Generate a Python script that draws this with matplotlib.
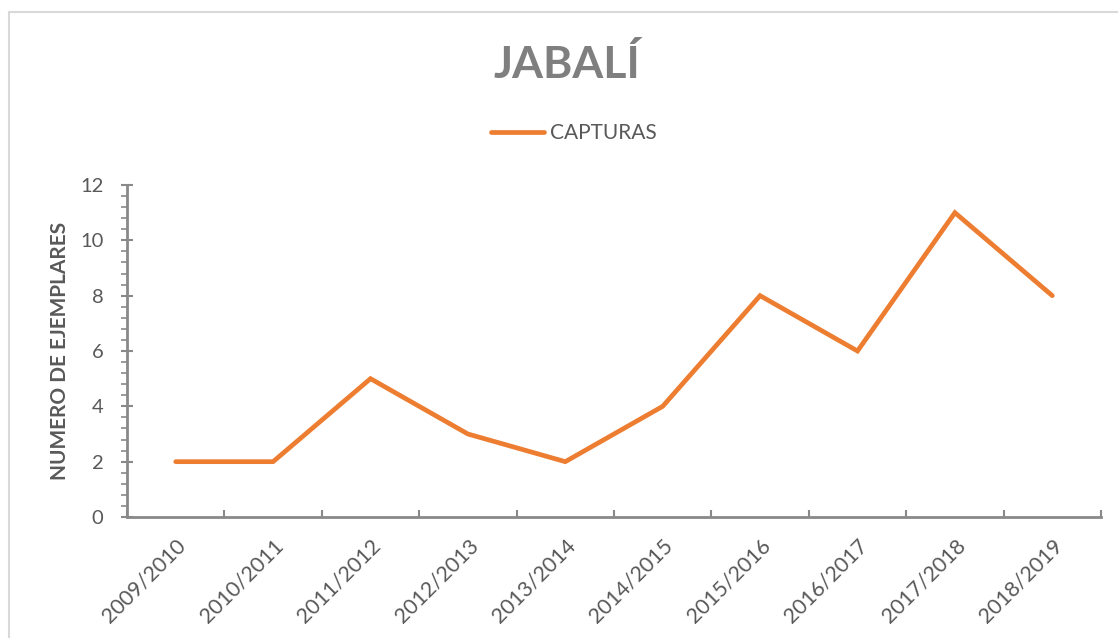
import matplotlib.pyplot as plt
from matplotlib.patches import Rectangle
from matplotlib.ticker import MultipleLocator, FixedLocator

plt.rcParams['font.family'] = ['Lato', 'DejaVu Sans']

seasons = ['2009/2010', '2010/2011', '2011/2012', '2012/2013', '2013/2014',
           '2014/2015', '2015/2016', '2016/2017', '2017/2018', '2018/2019']
capturas = [2, 2, 5, 3, 2, 4, 8, 6, 11, 8]

axis_grey = '#898989'
text_grey = '#595959'

fig = plt.figure(figsize=(11.18, 6.38), dpi=100)
ax = fig.add_axes([127 / 1118, 121 / 638, (1101 - 127) / 1118, 332 / 638])

x = list(range(len(seasons)))
ax.plot(x, capturas, color='#ED7D31', linewidth=3.4, solid_capstyle='round',
        solid_joinstyle='miter', label='CAPTURAS')

ax.set_xlim(-0.5, len(seasons) - 0.5)
ax.set_ylim(0, 12)

# y axis: majors every 2 crossing the axis, minors outside
ax.yaxis.set_major_locator(MultipleLocator(2))
ax.yaxis.set_minor_locator(MultipleLocator(0.4))
ax.tick_params(axis='y', which='major', direction='inout', length=8, width=1.5,
               color=axis_grey, labelsize=14.5, labelcolor=text_grey, pad=13)
ax.tick_params(axis='y', which='minor', direction='out', length=4, width=1.2,
               color=axis_grey)

# x axis: ticks between categories, labels at the centres
ax.xaxis.set_major_locator(FixedLocator([i - 0.5 for i in range(len(seasons) + 1)]))
ax.xaxis.set_major_formatter(plt.NullFormatter())
ax.xaxis.set_minor_locator(FixedLocator(x))
ax.set_xticklabels(seasons, minor=True)
ax.tick_params(axis='x', which='major', direction='in', length=5, width=1.5,
               color=axis_grey)
ax.tick_params(axis='x', which='minor', length=0, labelsize=15.5,
               labelcolor=text_grey, pad=13)
for lbl in ax.get_xticklabels(minor=True):
    lbl.set_rotation(45)
    lbl.set_ha('right')
    lbl.set_va('top')
    lbl.set_rotation_mode('anchor')

for side in ['top', 'right']:
    ax.spines[side].set_visible(False)
for side in ['left', 'bottom']:
    ax.spines[side].set_color(axis_grey)
    ax.spines[side].set_linewidth(2)

ax.set_ylabel('NUMERO DE EJEMPLARES', fontsize=15, fontweight='bold',
              color=text_grey)
ax.yaxis.set_label_coords((70 - 127) / 974, 0.5)

fig.text(567 / 1118, 1 - 64 / 638, 'JABALÍ', ha='center', va='center',
         fontsize=32, fontweight='bold', color='#7f7f7f')

ax.legend(loc='center', bbox_to_anchor=(574 / 1118, 1 - 133 / 638),
          bbox_transform=fig.transFigure, frameon=False, fontsize=15,
          labelcolor=text_grey, handlelength=2.5, handletextpad=0.3)

# light border of the chart area
fig.patches.append(Rectangle((9 / 1118, -0.1), 1.2, 1 - 12 / 638 + 0.1,
                             transform=fig.transFigure, fill=False,
                             edgecolor='#d9d9d9', linewidth=1.5))

fig.savefig('out.png', dpi=100)
